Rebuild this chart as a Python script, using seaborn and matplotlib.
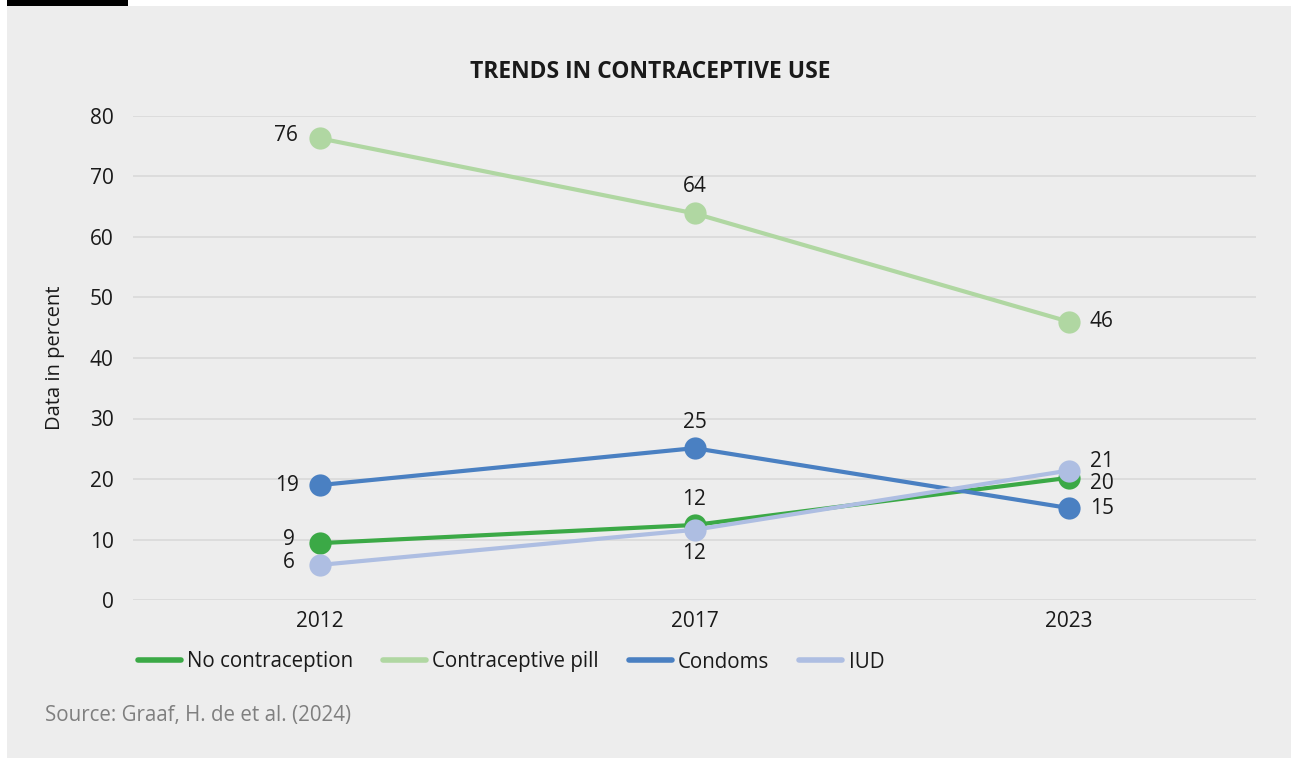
import matplotlib
matplotlib.use("Agg")
import matplotlib.pyplot as plt
from matplotlib.lines import Line2D
from matplotlib.patches import Rectangle
import pandas as pd
import seaborn as sns

years = ["2012", "2017", "2023"]
series_names = ["No contraception", "Contraceptive pill", "Condoms", "IUD"]
no_contraception = [9.4, 12.4, 20.2]
contraceptive_pill = [76.3, 63.9, 46.0]
condoms = [19.0, 25.1, 15.2]
iud = [5.8, 11.6, 21.4]
y_ticks = [0, 10, 20, 30, 40, 50, 60, 70, 80]

colors = ["#3BA946", "#B0D7A2", "#4A80C2", "#AEBEE2"]

# value-label placement per series and year: (dx, dy in pixels, ha, va)
label_offsets = {
    "No contraception": [(-25, 4, "right", "center"), (0, 15, "center", "bottom"), (21, -6, "left", "center")],
    "Contraceptive pill": [(-22, 3, "right", "center"), (0, 16, "center", "bottom"), (21, 0, "left", "center")],
    "Condoms": [(-21, 0, "right", "center"), (0, 15, "center", "bottom"), (21, 0, "left", "center")],
    "IUD": [(-25, 2, "right", "center"), (0, -13, "center", "top"), (21, 9, "left", "center")],
}

values = [no_contraception, contraceptive_pill, condoms, iud]
df = pd.DataFrame(
    [(y, name, v) for name, vals in zip(series_names, values) for y, v in zip(years, vals)],
    columns=["Year", "Series", "Value"],
)

sns.set_theme(style="white")
plt.rcParams["font.family"] = ["Open Sans", "DejaVu Sans"]

W, H = 1291, 758
fig = plt.figure(figsize=(W / 100, H / 100), dpi=100, facecolor="white")

# grey panel and dark tab at its top-left
fig.patches.append(Rectangle((7 / W, 0), 1 - 7 / W, (H - 6) / H, transform=fig.transFigure,
                             facecolor="#EDEDED", edgecolor="none", zorder=-10))
fig.patches.append(Rectangle((7 / W, (H - 6) / H), (128 - 7) / W, 6 / H, transform=fig.transFigure,
                             facecolor="black", edgecolor="none", zorder=-10))

ax = fig.add_axes([133 / W, 1 - 600 / H, (1256 - 133) / W, (600 - 116) / H])
ax.set_facecolor("none")

sns.lineplot(data=df, x="Year", y="Value", hue="Series", hue_order=series_names,
             palette=colors, marker="o", markersize=16, markeredgewidth=0,
             linewidth=3.0, legend=False, ax=ax, sort=False, clip_on=False)
for ln in ax.lines:
    ln.set_clip_on(False)
    ln.set_solid_capstyle("round")

ax.set_xlim(-0.5, 2.5)
ax.set_ylim(0, 80)
ax.set_yticks(y_ticks)
ax.grid(axis="y", color="#D9D9D9", linewidth=1.2)
ax.set_axisbelow(True)
for s in ax.spines.values():
    s.set_visible(False)
ax.tick_params(axis="both", length=0, labelsize=15, colors="#1A1A1A")
ax.tick_params(axis="y", pad=14)
ax.tick_params(axis="x", pad=8)
ax.set_xlabel("")
ax.set_ylabel("Data in percent", fontsize=14.5, color="#1A1A1A", va="center")
ax.yaxis.set_label_coords((55 - 133) / 1123, 0.5)

for name, vals in zip(series_names, values):
    for i, v in enumerate(vals):
        dx, dy, ha, va = label_offsets[name][i]
        ax.annotate(f"{v:.0f}", xy=(i, v), xytext=(dx, dy), textcoords="offset pixels",
                    ha=ha, va=va, fontsize=15, color="#1A1A1A", zorder=10)

fig.text(650 / W, 1 - 72 / H, "TRENDS IN CONTRACEPTIVE USE", ha="center", va="center",
         fontsize=16.5, fontweight="bold", color="#1A1A1A")

handles = [Line2D([0], [0], color=c, linewidth=4, solid_capstyle="round") for c in colors]
fig.legend(handles, series_names, loc="center", bbox_to_anchor=(511 / W, 1 - 662 / H),
           ncol=4, frameon=False, fontsize=14.8, handlelength=2.1, handletextpad=0.3,
           columnspacing=1.45, labelcolor="#1A1A1A")

fig.text(45 / W, 1 - 716 / H, "Source: Graaf, H. de et al. (2024)", ha="left", va="center",
         fontsize=14.8, color="#7F7F7F")

fig.savefig("out.png", dpi=100, facecolor="white")
